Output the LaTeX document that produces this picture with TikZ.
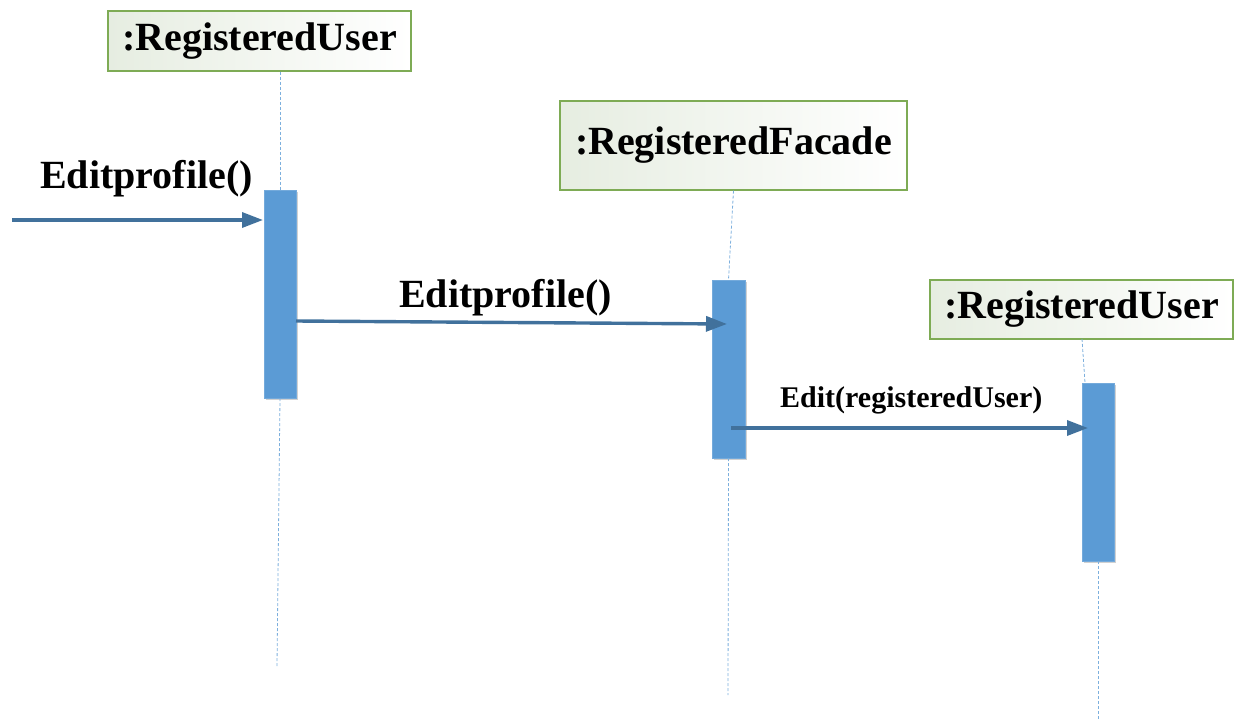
\documentclass[tikz,border=0pt]{standalone}
\usepackage{fontspec}
\setmainfont{Liberation Serif}
\usetikzlibrary{arrows.meta,shadows}
\definecolor{barre}{HTML}{5B9BD5}
\definecolor{fleche}{HTML}{41719C}
\definecolor{cadre}{HTML}{7EAB55}
\definecolor{fond}{HTML}{E6EDE1}
\tikzset{objet/.style={
    draw=cadre,
    line width=1.2pt,
    left color=fond,
    right color=white,
    inner sep=0pt,
    font=\fontsize{40}{48}\selectfont\bfseries}}
\tikzset{activation/.style={
    fill=barre,
    draw=barre!85!white,
    inner sep=0pt,
    drop shadow={shadow xshift=2pt,shadow yshift=-2pt,opacity=0.3,fill=black!60}}}
\tikzset{vie/.style={
    draw=barre!80,
    line width=0.8pt,
    dash pattern=on 3pt off 2pt}}
\tikzset{message/.style={
    draw=fleche,
    line width=3.4pt,
    -{Triangle[length=21pt,width=15pt]}}}
\tikzset{libelle/.style={
    font=\fontsize{40}{48}\selectfont\bfseries,
    anchor=base west,
    inner sep=0pt}}

\begin{document}
\begin{tikzpicture}[x=1pt,y=-1pt]
\useasboundingbox (0,0) rectangle (1235,723);

% objets
\node[objet,minimum width=303pt,minimum height=60pt] (ruser) at (259.5,41) {:RegisteredUser};
\node[objet,minimum width=347pt,minimum height=89pt] (rfacade) at (733.5,145.5) {:RegisteredFacade};
\node[objet,minimum width=303pt,minimum height=59pt] (ruser2) at (1081.5,309.5) {:RegisteredUser};

% activations
\node[activation,minimum width=32pt,minimum height=208pt] (act1) at (280,294) {};
\node[activation,minimum width=33pt,minimum height=178pt] (act2) at (728.5,369) {};
\node[activation,minimum width=32pt,minimum height=178pt] (act3) at (1098,472) {};

% lignes de vie
\coordinate (fin1) at (277,666);
\coordinate (fin2) at (728,695);
\coordinate (fin3) at (1098,720);
\coordinate (haut3) at (1082,339);
\draw[vie] (ruser.south -| act1.north) -- (act1.north);
\draw[vie] (act1.south) -- (fin1);
\draw[vie] (rfacade.south) -- (act2.north);
\draw[vie] (act2.south) -- (fin2);
\draw[vie] (haut3) -- ([xshift=-13pt]act3.north);
\draw[vie] (act3.south) -- (fin3);

% messages
\coordinate (m1a) at (12,220);
\coordinate (m1b) at (263,220);
\coordinate (m2a) at (296,321);
\coordinate (m2b) at (727,324);
\coordinate (m3a) at (731,428);
\coordinate (m3b) at (1088,428);
\draw[message] (m1a) -- (m1b);
\draw[message] (m2a) -- (m2b);
\draw[message] (m3a) -- (m3b);

\node[libelle] (lab1) at (40,188) {Editprofile()};
\node[libelle] (lab2) at (399,307) {Editprofile()};
\node[libelle,font=\fontsize{30}{36}\selectfont\bfseries] (lab3) at (780,407) {Edit(registeredUser)};
\end{tikzpicture}
\end{document}
